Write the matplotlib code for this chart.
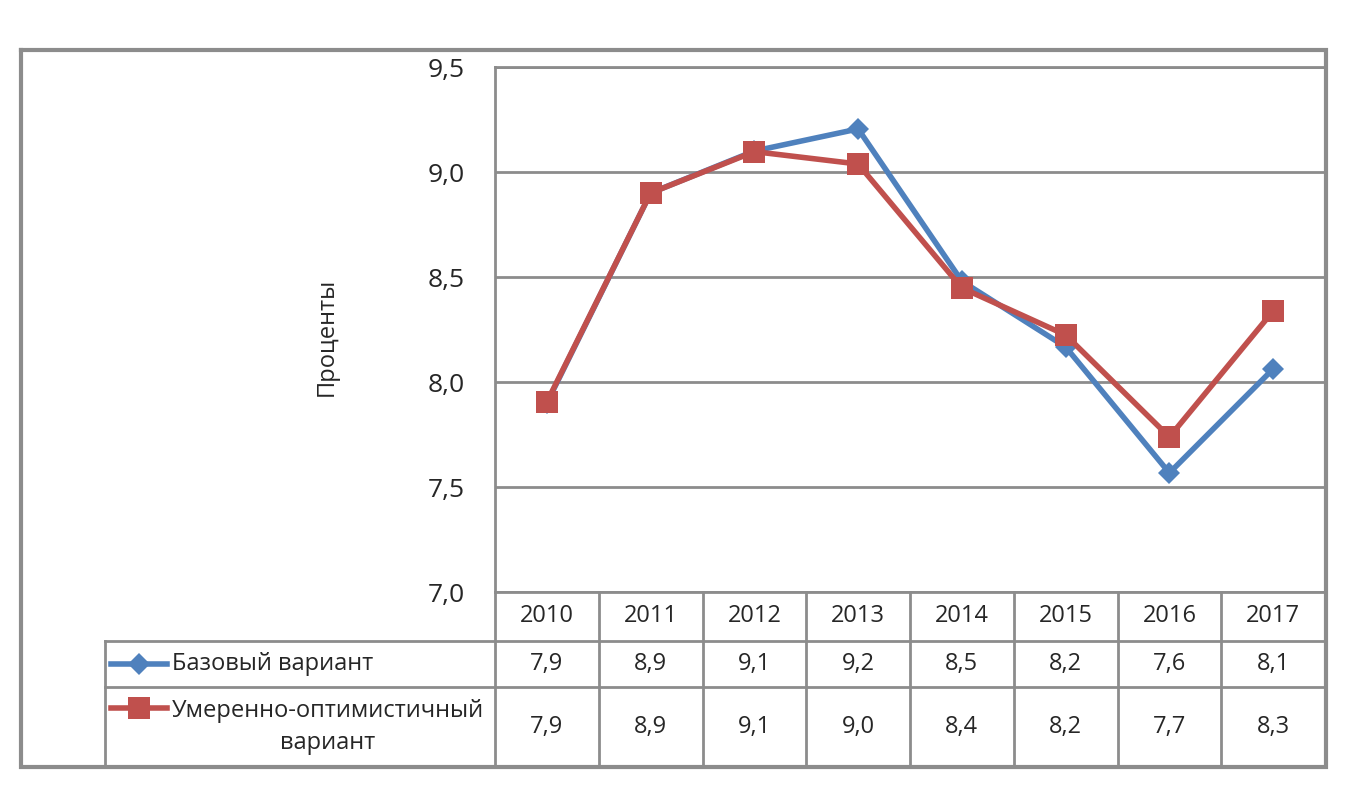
import matplotlib
matplotlib.use("Agg")
import matplotlib.pyplot as plt
from matplotlib.lines import Line2D

plt.rcParams['font.family'] = ['Open Sans', 'DejaVu Sans']

years = ['2010', '2011', '2012', '2013', '2014', '2015', '2016', '2017']
base = [7.9, 8.9, 9.1, 9.205, 8.48, 8.167, 7.567, 8.062]
moderate = [7.905, 8.9, 9.097, 9.038, 8.448, 8.224, 7.738, 8.338]
series_names = ['Базовый вариант', 'Умеренно-оптимистичный\nвариант']
yticks = [7.0, 7.5, 8.0, 8.5, 9.0, 9.5]
ylabel = 'Проценты'

BLUE = '#4F81BD'
RED = '#C0504D'
GREY = '#8C8C8C'
TXT = '#262626'

W, H = 1363, 791
fig = plt.figure(figsize=(W / 100, H / 100), dpi=100)

# main plot area (pixel layout)
pl, pr, pt, pb = 495, 1325, 67, 592
ax = fig.add_axes([pl / W, 1 - pb / H, (pr - pl) / W, (pb - pt) / H])
x = list(range(len(years)))
ax.plot(x, base, color=BLUE, lw=4, marker='D', ms=11, mfc=BLUE, mec=BLUE, mew=0, zorder=3)
ax.plot(x, moderate, color=RED, lw=4, marker='s', ms=16, mfc=RED, mec=RED, mew=0, zorder=4)
ax.set_xlim(-0.5, len(years) - 0.5)
ax.set_ylim(7.0, 9.5)
ax.set_yticks(yticks)
ax.set_yticklabels([f"{v:.1f}".replace('.', ',') for v in yticks], fontsize=19, color=TXT)
ax.tick_params(axis='y', length=0, pad=22)
ax.set_xticks([])
ax.yaxis.grid(True, color=GREY, lw=2)
ax.set_axisbelow(True)
for s in ['left', 'top']:
    ax.spines[s].set_color(GREY)
    ax.spines[s].set_linewidth(2)
ax.spines['bottom'].set_visible(False)
ax.spines['right'].set_visible(False)

# overlay in pixel coordinates for frame and data table
ov2 = fig.add_axes([0, 0, 1, 1], zorder=5)
ov2.set_xlim(0, W)
ov2.set_ylim(H, 0)
ov2.axis('off')
ov2.patch.set_alpha(0)

ov2.text(327, 337, ylabel, rotation=90, ha='center', va='center', fontsize=17, color=TXT)

# table geometry
col_edges = [ax.transData.transform((i - 0.5, 0))[0] for i in range(len(years) + 1)]
col_cent = [ax.transData.transform((i, 0))[0] for i in x]
row_y = [592, 641, 687, 767]
tl = 105
lw_t = 2
# horizontal lines
ov2.plot([col_edges[0], col_edges[-1]], [row_y[0], row_y[0]], color=GREY, lw=lw_t)
for yy in row_y[1:-1]:
    ov2.plot([tl, col_edges[-1]], [yy, yy], color=GREY, lw=lw_t)
# vertical lines
for xe in col_edges[:-1]:
    ov2.plot([xe, xe], [row_y[0], row_y[-1]], color=GREY, lw=lw_t)
ov2.plot([tl, tl], [row_y[1], row_y[-1]], color=GREY, lw=lw_t)

# outer frame
ov2.plot([21, 1326, 1326, 21, 21], [50, 50, 767, 767, 50], color=GREY, lw=3,
         solid_joinstyle='miter')

# header years
for cx, yr in zip(col_cent, years):
    ov2.text(cx, (row_y[0] + row_y[1]) / 2, yr, ha='center', va='center', fontsize=17, color=TXT)

rows = [(base, BLUE, 'D', 11, series_names[0], (row_y[1] + row_y[2]) / 2, 664),
        (moderate, RED, 's', 16, series_names[1], (row_y[2] + row_y[3]) / 2, 708)]
for vals, col, mk, ms, name, cy, ky in rows:
    for cx, v in zip(col_cent, vals):
        ov2.text(cx, cy, f"{v:.1f}".replace('.', ','), ha='center', va='center', fontsize=17, color=TXT)
    ov2.add_line(Line2D([111, 167], [ky, ky], color=col, lw=4))
    ov2.plot([139], [ky], marker=mk, ms=ms, color=col, mew=0)
    ov2.text(172, cy, name, ha='left', va='center', multialignment='center',
             fontsize=17, color=TXT, linespacing=1.45)

fig.savefig('out.png', dpi=100)
